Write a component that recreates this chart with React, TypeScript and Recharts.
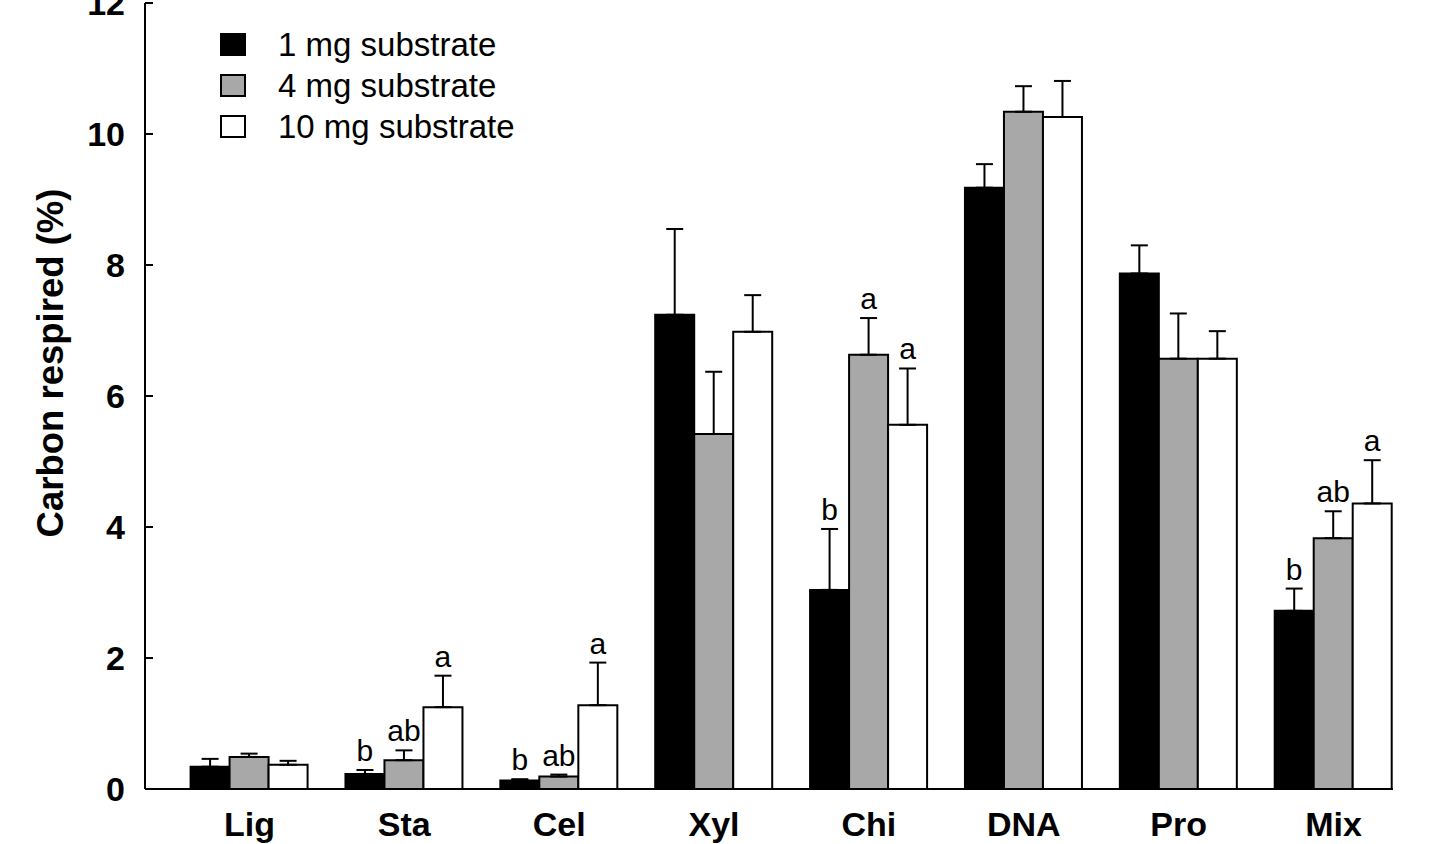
import React from 'react';
import { BarChart, Bar, XAxis, YAxis, ErrorBar, LabelList, Legend } from 'recharts';

const substrates = ['Lig', 'Sta', 'Cel', 'Xyl', 'Chi', 'DNA', 'Pro', 'Mix'];

// mean carbon respired (%)
const mean1mg = [0.34, 0.23, 0.13, 7.24, 3.04, 9.18, 7.87, 2.72];
const mean4mg = [0.49, 0.44, 0.19, 5.42, 6.63, 10.34, 6.57, 3.83];
const mean10mg = [0.37, 1.25, 1.28, 6.98, 5.56, 10.26, 6.57, 4.36];

// standard errors (upper bars only)
const se1mg = [0.12, 0.06, 0.02, 1.31, 0.93, 0.36, 0.43, 0.34];
const se4mg = [0.05, 0.15, 0.03, 0.95, 0.56, 0.39, 0.69, 0.41];
const se10mg = [0.06, 0.48, 0.65, 0.56, 0.86, 0.55, 0.42, 0.66];

// significance letters
const letters1mg = ['', 'b', 'b', '', 'b', '', '', 'b'];
const letters4mg = ['', 'ab', 'ab', '', 'a', '', '', 'ab'];
const letters10mg = ['', 'a', 'a', '', 'a', '', '', 'a'];

const yTicks = [0, 2, 4, 6, 8, 10, 12];
const seriesNames = ['1 mg substrate', '4 mg substrate', '10 mg substrate'];
const seriesFills = ['#000000', '#a8a8a8', '#ffffff'];

const FONT = '"Liberation Sans", Arial, Helvetica, sans-serif';

const data = substrates.map((name, i) => ({
  name,
  m1: mean1mg[i],
  m4: mean4mg[i],
  m10: mean10mg[i],
  e1: [0, se1mg[i]],
  e4: [0, se4mg[i]],
  e10: [0, se10mg[i]],
}));

const YTick = (props: any) => {
  const { x, y, payload } = props;
  const axisX = x + 20;
  return (
    <g>
      <line x1={axisX} x2={axisX + 8} y1={y} y2={y} stroke="#000" strokeWidth={2} />
      <text x={x} y={y} dy="0.355em" textAnchor="end" fontSize={34} fontWeight="bold" fill="#000" fontFamily={FONT}>
        {payload.value}
      </text>
    </g>
  );
};

// letter above the error bar cap
const makeLetter = (letters: string[], errs: number[], means: number[]) => (props: any) => {
  const vb = props.viewBox ?? props;
  const index = props.index;
  const txt = letters[index];
  if (!txt) return null;
  const { x, y, width, height } = vb;
  const pxPerUnit = height / means[index];
  const capY = y - errs[index] * pxPerUnit;
  return (
    <text x={x + width / 2} y={capY - 9} textAnchor="middle" fontSize={30} fill="#000" fontFamily={FONT}>
      {txt}
    </text>
  );
};

const LegendBox = () => (
  <div style={{ fontFamily: FONT }}>
    {seriesNames.map((n, i) => (
      <div key={n} style={{ display: 'flex', alignItems: 'center', height: 41 }}>
        <span
          style={{
            display: 'inline-block',
            width: 22,
            height: 19,
            border: '2px solid #000',
            background: seriesFills[i],
          }}
        />
        <span style={{ marginLeft: 32, fontSize: 33, color: '#000', whiteSpace: 'nowrap' }}>{n}</span>
      </div>
    ))}
  </div>
);

const YLabel = () => (
  <text
    x={63}
    y={363}
    transform="rotate(-90 63 363)"
    textAnchor="middle"
    fontSize={36.5}
    fontWeight="bold"
    fill="#000"
    fontFamily={FONT}
  >
    Carbon respired (%)
  </text>
);

export default function App() {
  return (
    <div style={{ position: 'absolute', top: 0, left: 0, width: 1436, height: 844, background: '#fff', fontFamily: FONT }}>
      <BarChart
        width={1436}
        height={844}
        data={data}
        margin={{ top: 3, right: 43, left: 0, bottom: 0 }}
        barCategoryGap="12%"
        barGap={0}
      >
        <XAxis
          dataKey="name"
          height={55}
          padding={{ left: 27, right: -18 }}
          axisLine={{ stroke: '#000', strokeWidth: 2 }}
          tickLine={false}
          tickSize={0}
          tickMargin={23}
          tick={{ fontSize: 34, fontWeight: 'bold', fill: '#000', fontFamily: FONT }}
          interval={0}
        />
        <YAxis
          width={145}
          domain={[0, 12]}
          ticks={yTicks}
          axisLine={{ stroke: '#000', strokeWidth: 2 }}
          tickLine={false}
          tickSize={0}
          tickMargin={20}
          tick={<YTick />}
          interval={0}
          label={() => <YLabel />}
        />
        <Legend
          layout="vertical"
          align="center"
          verticalAlign="middle"
          wrapperStyle={{ top: 24, left: 220, width: 360 }}
          content={() => <LegendBox />}
        />
        <Bar dataKey="m1" name={seriesNames[0]} fill={seriesFills[0]} stroke="#000" strokeWidth={2} isAnimationActive={false}>
          <ErrorBar dataKey="e1" direction="y" width={8.5} stroke="#000" strokeWidth={2} />
          <LabelList dataKey="m1" content={makeLetter(letters1mg, se1mg, mean1mg)} />
        </Bar>
        <Bar dataKey="m4" name={seriesNames[1]} fill={seriesFills[1]} stroke="#000" strokeWidth={2} isAnimationActive={false}>
          <ErrorBar dataKey="e4" direction="y" width={8.5} stroke="#000" strokeWidth={2} />
          <LabelList dataKey="m4" content={makeLetter(letters4mg, se4mg, mean4mg)} />
        </Bar>
        <Bar dataKey="m10" name={seriesNames[2]} fill={seriesFills[2]} stroke="#000" strokeWidth={2} isAnimationActive={false}>
          <ErrorBar dataKey="e10" direction="y" width={8.5} stroke="#000" strokeWidth={2} />
          <LabelList dataKey="m10" content={makeLetter(letters10mg, se10mg, mean10mg)} />
        </Bar>
      </BarChart>
    </div>
  );
}
